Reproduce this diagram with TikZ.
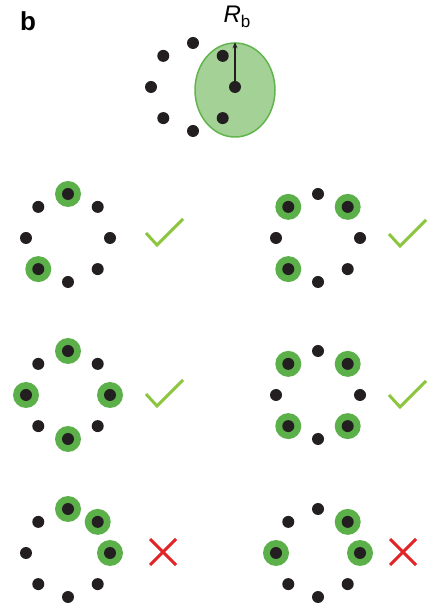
\documentclass[tikz,border=0pt]{standalone}
\usepackage{fontspec}
\setmainfont{Liberation Sans}
\usepackage{tikz}
\usetikzlibrary{arrows.meta,positioning,shapes.geometric}
\definecolor{dotblack}{RGB}{35,31,32}
\definecolor{halogreen}{RGB}{92,176,74}
\definecolor{blobgreen}{RGB}{163,209,150}
\definecolor{blobedge}{RGB}{98,181,77}
\definecolor{tickgreen}{RGB}{140,198,63}
\definecolor{crossred}{RGB}{226,35,40}

\begin{document}
\begin{tikzpicture}[x=1pt,y=1pt,
  atom/.style={circle,fill=dotblack,inner sep=0pt,minimum size=12pt},
  halo/.style={circle,fill=halogreen,inner sep=0pt,minimum size=26pt},
  okmark/.pic={\draw[tickgreen,line width=3pt] (-11,12) -- (0,0) -- (26,26);},
  nomark/.pic={\draw[crossred,line width=3pt] (-13,-13) -- (13,13) (-13,13) -- (13,-13);}]
\useasboundingbox (0,0) rectangle (433,605);
% ring sites
\foreach \r/\cx/\cy in {a/68/367,b/318/367,c/68/210,d/318/210,e/68/52,f/318/52,t/193/518}
  \foreach \k in {0,...,7}
    \path (\cx,\cy) ++({90-45*\k}:42 and 44) coordinate (\r-\k);
% blockade region
\node[ellipse,draw=blobedge,fill=blobgreen,line width=1.5pt,minimum width=80pt,minimum height=94pt] (blob) at (235,515) {};
% excited atoms
\foreach \h in {a-0,a-5,b-7,b-1,b-5,c-0,c-2,c-4,c-6,d-1,d-3,d-5,d-7,e-0,e-1,e-2,f-1,f-2,f-6}
  \node[halo] (h\h) at (\h) {};
\foreach \r in {a,b,c,d,e,f,t}
  \foreach \k in {0,...,7}
    \node[atom] (n\r\k) at (\r-\k) {};
\draw[dotblack,line width=1.8pt,-{Stealth[length=6pt,width=5pt]}] (t-2) -- (t-2 |- blob.north);
\node[font=\fontsize{26}{26}\selectfont\bfseries] (panel) at (28,584) {b};
\node[font=\fontsize{24}{24}\selectfont] (rlabel) at (237,588) {\textit{R}\raisebox{-0.35ex}{\fontsize{17}{17}\selectfont b}};
% allowed / forbidden
\pic (ok-a) at (157,360) {okmark};
\pic (ok-b) at (400,359) {okmark};
\pic (ok-c) at (157,199) {okmark};
\pic (ok-d) at (400,198) {okmark};
\pic (no-e) at (163,53) {nomark};
\pic (no-f) at (403,53) {nomark};
\end{tikzpicture}
\end{document}
